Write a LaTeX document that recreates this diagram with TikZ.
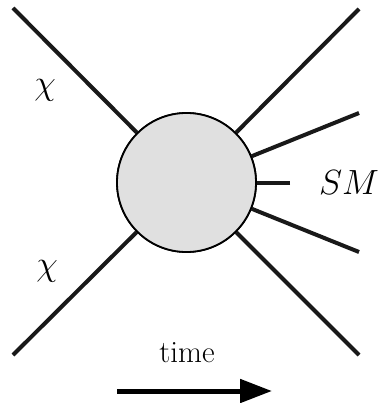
\documentclass[tikz,border=0pt]{standalone}
\usepackage{fix-cm}
\usetikzlibrary{arrows.meta}
\begin{document}
\begin{tikzpicture}[x=1pt,y=-1pt,
  leg/.style={line width=4pt, draw=black!90},
  blob/.style={circle, draw=black, line width=1.8pt, fill=black!12, minimum size=139pt, inner sep=0pt},
  lbl/.style={inner sep=0pt, font=\fontsize{35}{40}\selectfont},
  tlbl/.style={inner sep=0pt, font=\fontsize{31}{36}\selectfont}]
\useasboundingbox (0,0) rectangle (381,403);
\coordinate (a) at (13,8);
\coordinate (b) at (359,9);
\coordinate (c) at (13,355);
\coordinate (d) at (359,355);
\coordinate (e) at (359,113);
\coordinate (f) at (290,182.5);
\coordinate (g) at (359,252);
\node[blob] (o) at (186.5,182.5) {};
\draw[leg] (a) -- (o);
\draw[leg] (b) -- (o);
\draw[leg] (c) -- (o);
\draw[leg] (d) -- (o);
\draw[leg] (e) -- (o);
\draw[leg] (f) -- (o);
\draw[leg] (g) -- (o);
\node[blob] (o2) at (186.5,182.5) {};
\node[lbl] (x1) at (45,90) {$\chi$};
\node[lbl] (x2) at (47,271) {$\chi$};
\node[lbl] (sm) at (349,183) {$SM$};
\node[tlbl] (t) at (187,353) {time};
\coordinate (s) at (117,391);
\coordinate (h) at (272,391);
\draw[line width=5pt, -{Triangle[length=32pt,width=23pt]}] (s) -- (h);
\end{tikzpicture}
\end{document}
